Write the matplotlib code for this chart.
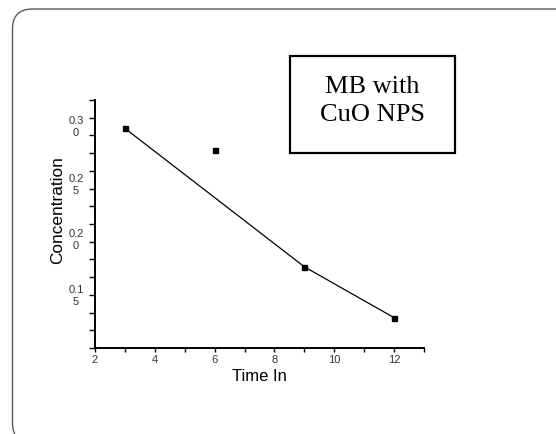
import numpy as np
import matplotlib
matplotlib.use("Agg")
import matplotlib.pyplot as plt
from matplotlib.patches import FancyBboxPatch, Rectangle

# values
time = [3, 6, 9, 12]
conc = [0.2925, 0.2772, 0.1948, 0.1589]
# the drawn line skips the second point
line_time = [3, 9, 12]
line_conc = [0.2925, 0.1948, 0.1589]

ytick_labels = ["0.3\n0", "0.2\n5", "0.2\n0", "0.1\n5"]
ytick_label_pos = [0.2949, 0.2539, 0.2151, 0.1753]
xticks = [2, 4, 6, 8, 10, 12]

W, H = 556, 434
fig = plt.figure(figsize=(W / 100, H / 100), dpi=100)
fig.patch.set_facecolor("white")

# rounded slide frame (runs off right and bottom)
frame = FancyBboxPatch((12.5 / 100, -9 / 100), (576 - 12.5) / 100, (425 + 9) / 100,
                       boxstyle="round,pad=0,rounding_size=0.2",
                       transform=fig.dpi_scale_trans, fill=False,
                       edgecolor="#5a5a5a", linewidth=1.0)
fig.add_artist(frame)

ax = fig.add_axes([95 / W, 1 - 348 / H, (424 - 95) / W, (348 - 100) / H])
ax.plot(line_time, line_conc, color="black", linewidth=0.9)
ax.plot(time, conc, linestyle="none", marker="s", markersize=3.6, color="black")

ax.set_xlim(2, 13)
ax.set_ylim(0.1375, 0.3125)

for side in ["top", "right"]:
    ax.spines[side].set_visible(False)
for side in ["left", "bottom"]:
    ax.spines[side].set_linewidth(1.4)

sans = ["Liberation Sans", "DejaVu Sans"]

ax.set_xticks(xticks)
ax.set_xticklabels([str(v) for v in xticks], family=sans, fontsize=8, color="#333333")
ax.set_xticks(np.arange(3, 14, 2), minor=True)
ax.tick_params(axis="x", which="both", direction="out", length=3, width=1.0, pad=2)

ax.set_yticks(ytick_label_pos)
ax.set_yticklabels(ytick_labels, family=sans, fontsize=8, color="#333333",
                   ha="center", multialignment="center", linespacing=1.25)
ax.set_yticks(np.arange(0.1375, 0.3126, 0.0125), minor=True)
ax.tick_params(axis="y", which="major", length=0, pad=19 * 0.72)
ax.tick_params(axis="y", which="minor", direction="out", length=4, width=1.0)

ax.set_xlabel("Time In", family=sans, fontsize=12, labelpad=3)
ax.set_ylabel("Concentration", family=sans, fontsize=12.4)
ax.yaxis.set_label_coords((65 - 95) / (424 - 95), (348 - 210) / (348 - 100))

# legend-like text box
box = Rectangle((290 / W, 1 - 153 / H), (455 - 290) / W, (153 - 56) / H,
                transform=fig.transFigure, facecolor="white", edgecolor="black",
                linewidth=1.6, zorder=5)
fig.add_artist(box)
fig.text(372.5 / W, 1 - 101 / H, "MB with\nCuO NPS", ha="center", va="center",
         family=["Liberation Serif", "DejaVu Serif"], fontsize=19, linespacing=1.35,
         zorder=6)

fig.savefig("out.png", dpi=100)
